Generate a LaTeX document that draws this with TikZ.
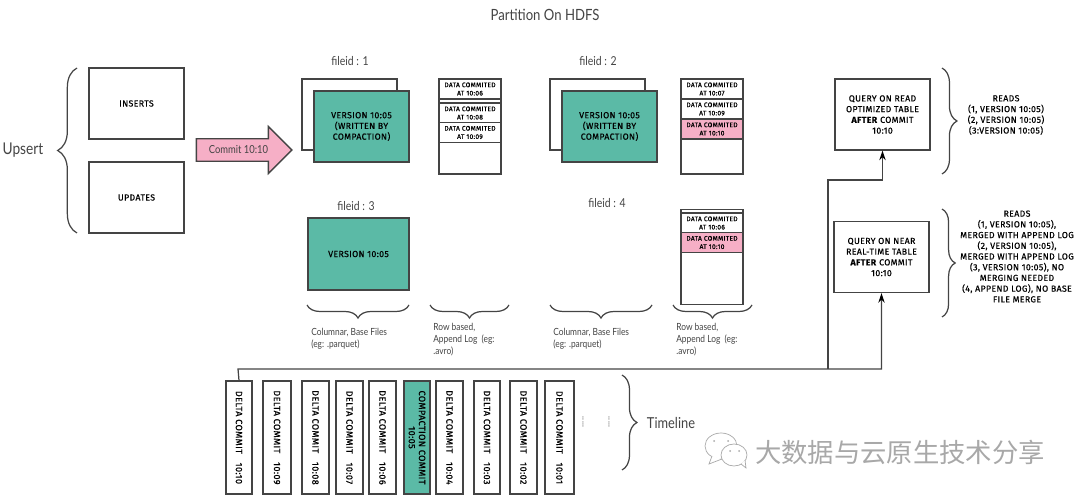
\documentclass[tikz,border=0pt]{standalone}
\usepackage{fontspec}
\setmainfont[FakeStretch=0.85]{Lato}
\newfontfamily\handfont[FakeBold=0.5,LetterSpace=4]{Fira Sans}
\newfontfamily\cjkfont{Noto Sans CJK SC}
\usetikzlibrary{arrows.meta,positioning,calc,shapes.arrows,decorations.pathreplacing}
\definecolor{ink}{HTML}{444444}
\definecolor{tealfill}{HTML}{5BBAA6}
\definecolor{pinkfill}{HTML}{F6AFC6}
\definecolor{softgray}{HTML}{A8A8A8}

\begin{document}
\begin{tikzpicture}[
    x=0.02cm, y=-0.02cm,
    bigbox/.style={draw=ink, line width=0.7pt, fill=white, minimum width=1.9cm, minimum height=1.42cm, align=center, inner sep=0pt, font=\handfont\fontsize{5}{6.1}\selectfont, text=black},
    basebox/.style={bigbox, fill=tealfill},
    logbox/.style={draw=ink, line width=0.7pt, fill=white, minimum width=1.24cm, minimum height=1.9cm, inner sep=0pt},
    logrow/.style={draw=ink, line width=0.7pt, fill=white, minimum width=1.24cm, minimum height=0.4cm, inner sep=0pt, align=center, font=\handfont\fontsize{3.8}{4.7}\selectfont},
    logpink/.style={logrow, fill=pinkfill},
    tick/.style={draw=ink, line width=0.7pt, fill=white, rotate=-90, minimum width=2.26cm, minimum height=0.54cm, inner sep=0pt, align=center, font=\handfont\fontsize{5.2}{5.8}\selectfont},
    thinlabel/.style={font=\fontsize{7}{8}\selectfont, text=ink, inner sep=0pt},
    note/.style={font=\fontsize{5.6}{6.85}\selectfont, text=ink, inner sep=0pt, align=left, anchor=north west},
    reads/.style={font=\handfont\fontsize{5}{6.1}\selectfont, inner sep=0pt, align=center},
    brace/.style={draw=ink, line width=0.7pt, decorate, decoration={brace, amplitude=#1}},
    brace/.default=7.4pt,
    rail/.style={draw=ink, line width=0.7pt},
    arrow/.style={rail, -{Stealth[length=5.5pt, width=3.6pt, color=black]}},
    bubble/.style={draw=softgray, line width=0.4pt, fill=white}
]
\useasboundingbox (0,0) rectangle (1080,500);

\node[thinlabel, font=\fontsize{8.8}{10}\selectfont] (title) at (545,15) {Partition On HDFS};

\node[thinlabel, font=\fontsize{9.2}{10}\selectfont] (upsert) at (23,150) {Upsert};
\node[bigbox] (inserts) at (136.5,103.5) {INSERTS};
\node[bigbox] (updates) at (136.5,197.5) {UPDATES};
\draw[brace=11pt] (77,233) -- (77,68);

\node[draw=ink, line width=0.8pt, fill=pinkfill, single arrow, single arrow head extend=0.24cm, single arrow head indent=0pt, minimum width=0.94cm, minimum height=1.91cm, inner sep=3.6pt, font=\fontsize{6.3}{7}\selectfont, text=ink] (commit) at (238.5,150) {Commit 10:10};

\node[thinlabel] (file1) at (350,61) {fileid : 1};
\node[bigbox] (back1) at (349.5,114.5) {};
\node[basebox] (base1) at (361.5,126.5) {VERSION 10:05\\(WRITTEN BY\\COMPACTION)};
\node[logbox] (log1) at (470,126.5) {};
\node[logrow] (log1a) at (470,89) {DATA COMMITED\\AT 10:06};
\node[logrow] (log1b) at (470,113) {DATA COMMITED\\AT 10:08};
\node[logrow] (log1c) at (470,132.5) {DATA COMMITED\\AT 10:09};

\node[thinlabel] (file2) at (598,61) {fileid : 2};
\node[bigbox] (back2) at (597.5,114.5) {};
\node[basebox] (base2) at (609.5,126.5) {VERSION 10:05\\(WRITTEN BY\\COMPACTION)};
\node[logbox] (log2) at (712,126.5) {};
\node[logrow] (log2a) at (712,89) {DATA COMMITED\\AT 10:07};
\node[logrow] (log2b) at (712,109) {DATA COMMITED\\AT 10:09};
\node[logpink] (log2c) at (712,129) {DATA COMMITED\\AT 10:10};

\node[thinlabel] (file3) at (356,206) {fileid : 3};
\node[basebox, minimum width=2.02cm, minimum height=1.44cm] (base3) at (358.5,254) {VERSION 10:05};

\node[thinlabel] (file4) at (607,203) {fileid : 4};
\node[logbox] (log4) at (712,257) {};
\node[logrow] (log4a) at (712,223) {DATA COMMITED\\AT 10:06};
\node[logpink] (log4b) at (712,242.5) {DATA COMMITED\\AT 10:10};

\draw[brace] (409,305) -- (307,305);
\draw[brace] (509,305) -- (430,305);
\draw[brace] (652,305) -- (550,305);
\draw[brace] (752,305) -- (673,305);

\node[note] (note1) at (311,328) {Columnar, Base Files\\(eg: .parquet)};
\node[note] (note2) at (433,323) {Row based,\\Append Log\ \ (eg:\\.avro)};
\node[note] (note3) at (553,328) {Columnar, Base Files\\(eg: .parquet)};
\node[note] (note4) at (676,323) {Row based,\\Append Log\ \ (eg:\\.avro)};

\node[bigbox] (query1) at (882.5,114.5) {QUERY ON READ\\OPTIMIZED TABLE\\\textbf{AFTER} COMMIT\\10:10};
\node[bigbox] (query2) at (881.5,257) {QUERY ON NEAR\\REAL-TIME TABLE\\\textbf{AFTER} COMMIT\\10:10};
\draw[brace=8.5pt] (942,68) -- (942,174);
\draw[brace=7.5pt] (942,209) -- (942,317);
\node[reads] (reads1) at (1006,115) {READS\\(1, VERSION 10:05)\\(2, VERSION 10:05)\\(3:VERSION 10:05)};
\node[reads] (reads2) at (1017,256.5) {READS\\(1, VERSION 10:05),\\MERGED WITH APPEND LOG\\(2, VERSION 10:05),\\MERGED WITH APPEND LOG\\(3, VERSION 10:05), NO\\MERGING NEEDED\\(4, APPEND LOG), NO BASE\\FILE MERGE};

\node[tick, minimum height=0.52cm] (t10) at (239,437.5) {DELTA COMMIT\hspace{5pt}10:10};
\node[tick, minimum height=0.56cm] (t09) at (277,437.5) {DELTA COMMIT\hspace{5pt}10:09};
\node[tick] (t08) at (315.5,437.5) {DELTA COMMIT\hspace{5pt}10:08};
\node[tick] (t07) at (349.5,437.5) {DELTA COMMIT\hspace{5pt}10:07};
\node[tick] (t06) at (382.5,437.5) {DELTA COMMIT\hspace{5pt}10:06};
\node[tick, fill=tealfill, minimum height=0.52cm] (t05) at (417,437.5) {COMPACTION COMMIT\\10:05};
\node[tick] (t04) at (449.5,437.5) {DELTA COMMIT\hspace{5pt}10:04};
\node[tick, minimum height=0.52cm] (t03) at (487,437.5) {DELTA COMMIT\hspace{5pt}10:03};
\node[tick] (t02) at (523.5,437.5) {DELTA COMMIT\hspace{5pt}10:02};
\node[tick, minimum height=0.58cm] (t01) at (559.5,437.5) {DELTA COMMIT\hspace{5pt}10:01};
\node[rotate=90, font=\fontsize{6}{6}\selectfont, text=gray, inner sep=0pt] (dots1) at (583,422) {.....};
\node[rotate=90, font=\fontsize{6}{6}\selectfont, text=gray, inner sep=0pt] (dots2) at (609,422) {.....};
\draw[brace=8.5pt] (622,375) -- (622,470);
\node[thinlabel, font=\fontsize{8.6}{10}\selectfont] (timeline) at (671,423) {Timeline};

\coordinate (split) at (828,369);
\draw[arrow] (t10.west) -- (238,369) -| (query2.south);
\draw[arrow] (split) -- (828,180) -| (query1.south);

\draw[bubble] (721,446) ellipse (16 and 13);
\draw[bubble] (712,456) -- (709,464) -- (722,459);
\draw[bubble] (734,455) ellipse (13 and 11);
\draw[bubble] (741,464) -- (746,468) -- (745,460);
\fill[softgray] (714,441) circle (1) (728,441) circle (1) (730,451) circle (1) (739,451) circle (1);
\node[font=\cjkfont\fontsize{15}{18}\selectfont, text=softgray, inner sep=0pt] (mark) at (900,452) {大数据与云原生技术分享};

\end{tikzpicture}
\end{document}
